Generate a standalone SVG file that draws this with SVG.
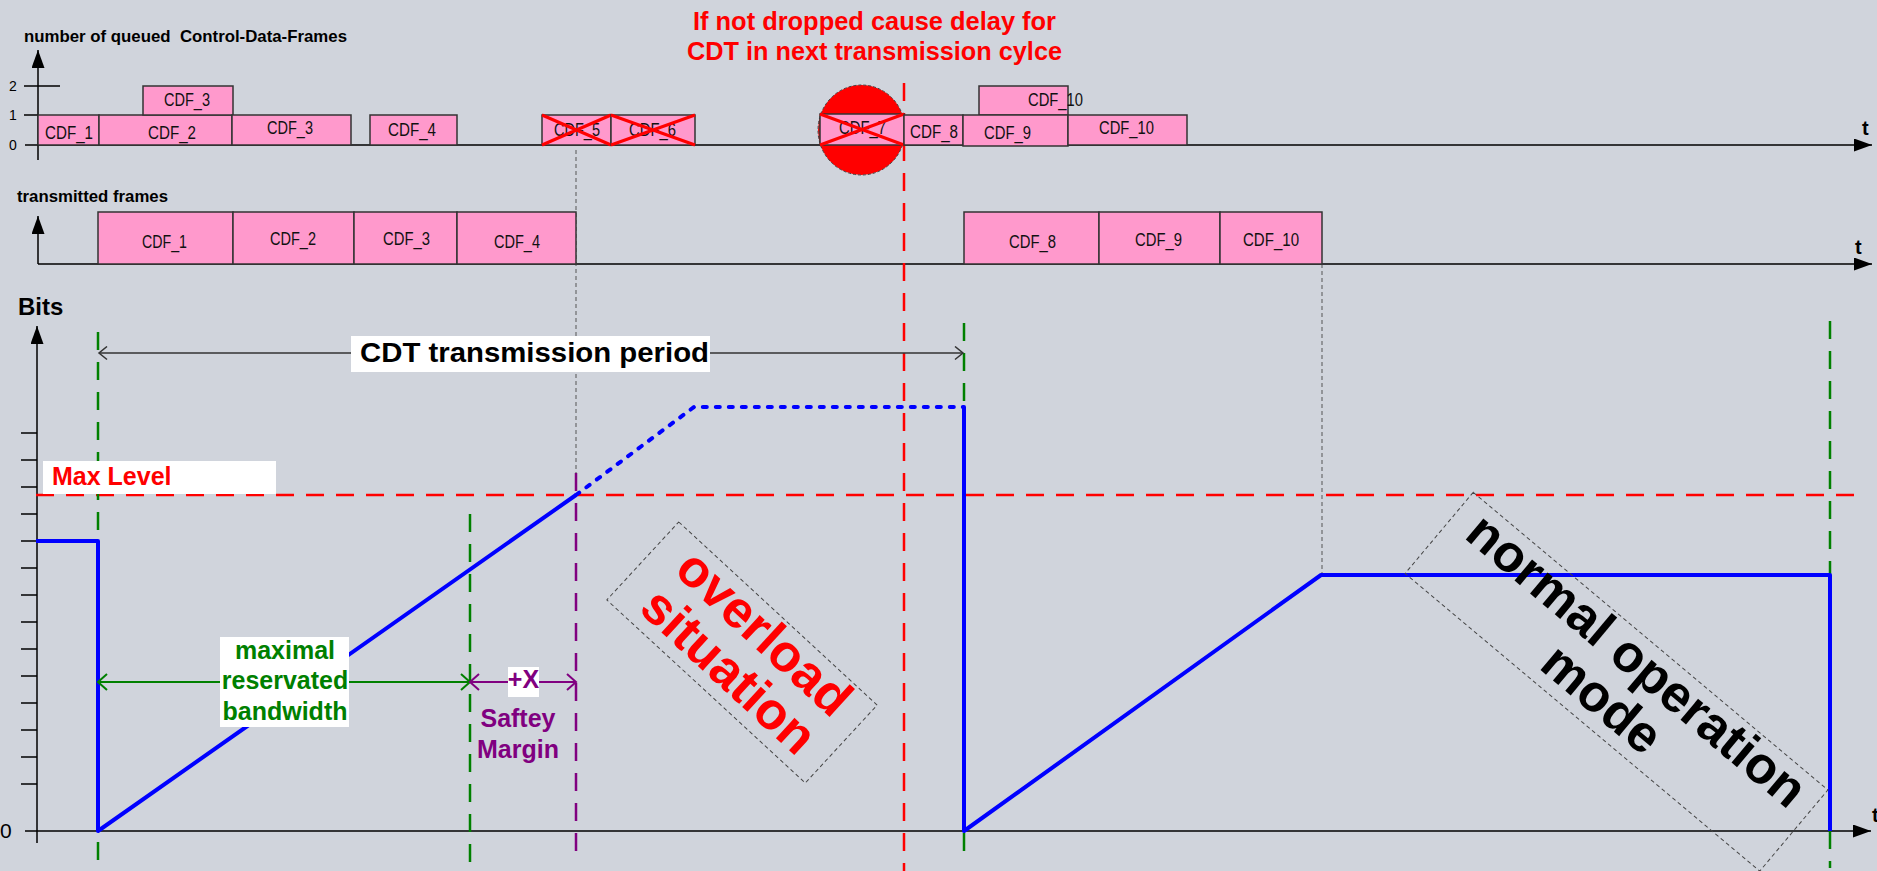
<svg xmlns="http://www.w3.org/2000/svg" width="1877" height="871" viewBox="0 0 1877 871">
<defs>
<style>
.bg{fill:#d0d4dc}
.ax{stroke:#000;stroke-width:1.5;fill:none}
.box{fill:#ff99cc;stroke:#333;stroke-width:1.5}
.cdf{font-family:"Liberation Sans",Arial,sans-serif;font-size:18px;fill:#111}
.tick{font-family:"Liberation Sans",Arial,sans-serif;font-size:14px;fill:#000}
.cross{stroke:#ff0000;stroke-width:3}
.guide{stroke:#555;stroke-width:1;stroke-dasharray:4 3;fill:none}
.dash{stroke-width:2.5;stroke-dasharray:18 12;fill:none}
.red{stroke:#ff0000}
.grn{stroke:#008000}
.pur{stroke:#800080}
.curve{stroke:#0000ff;stroke-width:4;fill:none;stroke-linejoin:round}
.dotted{stroke-dasharray:4 9;stroke-linecap:round}
.b{font-family:"Liberation Sans",Arial,sans-serif;font-weight:bold}
.frame{fill:none;stroke:#444;stroke-width:1;stroke-dasharray:4 3}
.tag{fill:#ffffff}
</style>
<marker id="axArrow" markerUnits="userSpaceOnUse" markerWidth="18" markerHeight="13" viewBox="0 0 18 13" refX="18" refY="6.5" orient="auto"><path d="M0,0 L18,6.5 L0,13 Z" fill="#000"/></marker>
<marker id="openGray" markerUnits="userSpaceOnUse" markerWidth="11" markerHeight="15" viewBox="0 0 11 15" refX="9" refY="7.5" orient="auto-start-reverse"><path d="M1,1 L9,7.5 L1,14" fill="none" stroke="#333" stroke-width="1.5"/></marker>
<marker id="openGreen" markerUnits="userSpaceOnUse" markerWidth="12" markerHeight="18" viewBox="0 0 12 18" refX="10" refY="9" orient="auto-start-reverse"><path d="M1,1 L10,9 L1,17" fill="none" stroke="#008000" stroke-width="2"/></marker>
<marker id="openPurple" markerUnits="userSpaceOnUse" markerWidth="12" markerHeight="18" viewBox="0 0 12 18" refX="10" refY="9" orient="auto-start-reverse"><path d="M1,1 L10,9 L1,17" fill="none" stroke="#800080" stroke-width="2"/></marker>
</defs>

<rect class="bg" x="0" y="0" width="1877" height="871"/>

<!-- queued frames chart: axes -->
<g id="queue-axes">
  <text class="b" x="24" y="42" font-size="17" textLength="323" lengthAdjust="spacingAndGlyphs" xml:space="preserve">number of queued  Control-Data-Frames</text>
  <line class="ax" x1="38" y1="160" x2="38" y2="50" marker-end="url(#axArrow)"/>
  <line class="ax" x1="25" y1="145" x2="1872" y2="145" marker-end="url(#axArrow)"/>
  <line class="ax" x1="24" y1="86" x2="60" y2="86"/>
  <line class="ax" x1="24" y1="115" x2="38" y2="115"/>
  <text class="tick" x="9" y="91">2</text>
  <text class="tick" x="9" y="120">1</text>
  <text class="tick" x="9" y="150">0</text>
  <text class="b" x="1862" y="135" font-size="20">t</text>
</g>

<!-- transmitted frames chart: axes -->
<g id="tx-axes">
  <text class="b" x="17" y="202" font-size="17" textLength="151" lengthAdjust="spacingAndGlyphs">transmitted frames</text>
  <line class="ax" x1="38" y1="264" x2="38" y2="216" marker-end="url(#axArrow)"/>
  <line class="ax" x1="38" y1="264" x2="1872" y2="264" marker-end="url(#axArrow)"/>
  <text class="b" x="1855" y="254" font-size="20">t</text>
</g>

<!-- bit level chart: axes -->
<g id="bits-axes">
  <text class="b" x="18" y="315" font-size="24">Bits</text>
  <line class="ax" x1="37" y1="843" x2="37" y2="326" marker-end="url(#axArrow)"/>
  <line class="ax" x1="25" y1="831" x2="1871" y2="831" marker-end="url(#axArrow)"/>
  <path class="ax" d="M21,433H37M21,460H37M21,487H37M21,514H37M21,541H37M21,568H37M21,595H37M21,622H37M21,649H37M21,676H37M21,703H37M21,730H37M21,757H37M21,784H37"/>
  <text x="0" y="838" font-family="Liberation Sans, Arial, sans-serif" font-size="21">0</text>
  <text class="b" x="1872" y="822" font-size="20">t</text>
</g>

<!-- guide lines -->
<g id="guides">
  <line class="guide" x1="576" y1="150" x2="576" y2="473"/>
  <line class="guide" x1="1322" y1="264" x2="1322" y2="575"/>
  <line class="dash red" x1="36" y1="495" x2="1861" y2="495"/>
  <line class="dash red" x1="904" y1="83" x2="904" y2="871"/>
  <line class="dash grn" x1="98" y1="332" x2="98" y2="860"/>
  <line class="dash grn" x1="470" y1="514" x2="470" y2="862"/>
  <line class="dash grn" x1="964" y1="323" x2="964" y2="862"/>
  <line class="dash grn" x1="1830" y1="321" x2="1830" y2="868"/>
  <line class="dash pur" x1="576" y1="473" x2="576" y2="858"/>
</g>

<!-- dropped frame highlight -->
<g id="drop-marker">
  <ellipse cx="861.5" cy="130" rx="43.5" ry="45" fill="#ff0000" stroke="#444" stroke-width="1" stroke-dasharray="3 2"/>
</g>

<!-- queued frames -->
<g id="q-cdf1"><rect class="box" x="38" y="115" width="61" height="30"/><text class="cdf" x="45" y="139" textLength="48" lengthAdjust="spacingAndGlyphs">CDF_1</text></g>
<g id="q-cdf2"><rect class="box" x="99" y="115" width="133" height="30"/><text class="cdf" x="148" y="139" textLength="48" lengthAdjust="spacingAndGlyphs">CDF_2</text></g>
<g id="q-cdf3-top"><rect class="box" x="143" y="86" width="90" height="29"/><text class="cdf" x="164" y="106" textLength="46" lengthAdjust="spacingAndGlyphs">CDF_3</text></g>
<g id="q-cdf3"><rect class="box" x="232" y="115" width="119" height="30"/><text class="cdf" x="267" y="134" textLength="46" lengthAdjust="spacingAndGlyphs">CDF_3</text></g>
<g id="q-cdf4"><rect class="box" x="370" y="115" width="87" height="30"/><text class="cdf" x="388" y="136" textLength="48" lengthAdjust="spacingAndGlyphs">CDF_4</text></g>
<g id="q-cdf5"><rect class="box" x="542" y="115" width="69" height="30"/><text class="cdf" x="554" y="136" textLength="46" lengthAdjust="spacingAndGlyphs">CDF_5</text><path class="cross" d="M542,115L611,145M542,145L611,115"/></g>
<g id="q-cdf6"><rect class="box" x="611" y="115" width="84" height="30"/><text class="cdf" x="629" y="136" textLength="47" lengthAdjust="spacingAndGlyphs">CDF_6</text><path class="cross" d="M611,115L695,145M611,145L695,115"/></g>
<g id="q-cdf7"><rect class="box" x="820" y="114" width="84" height="31"/><text class="cdf" x="839" y="134" textLength="47" lengthAdjust="spacingAndGlyphs">CDF_7</text><path class="cross" d="M820,114L904,145M820,145L904,114"/></g>
<g id="q-cdf8"><rect class="box" x="904" y="115" width="59" height="30"/><text class="cdf" x="910" y="138" textLength="48" lengthAdjust="spacingAndGlyphs">CDF_8</text></g>
<g id="q-cdf10-top"><rect class="box" x="979" y="86" width="89" height="29"/><text class="cdf" x="1028" y="106" textLength="55" lengthAdjust="spacingAndGlyphs">CDF_10</text></g>
<g id="q-cdf9"><rect class="box" x="963" y="115" width="105" height="31"/><text class="cdf" x="984" y="139" textLength="47" lengthAdjust="spacingAndGlyphs">CDF_9</text></g>
<g id="q-cdf10"><rect class="box" x="1068" y="115" width="119" height="30"/><text class="cdf" x="1099" y="134" textLength="55" lengthAdjust="spacingAndGlyphs">CDF_10</text></g>

<!-- transmitted frames -->
<g id="t-cdf1"><rect class="box" x="98" y="212" width="135" height="52"/><text class="cdf" x="142" y="248" textLength="45" lengthAdjust="spacingAndGlyphs">CDF_1</text></g>
<g id="t-cdf2"><rect class="box" x="233" y="212" width="121" height="52"/><text class="cdf" x="270" y="245" textLength="46" lengthAdjust="spacingAndGlyphs">CDF_2</text></g>
<g id="t-cdf3"><rect class="box" x="354" y="212" width="103" height="52"/><text class="cdf" x="383" y="245" textLength="47" lengthAdjust="spacingAndGlyphs">CDF_3</text></g>
<g id="t-cdf4"><rect class="box" x="457" y="212" width="119" height="52"/><text class="cdf" x="494" y="248" textLength="46" lengthAdjust="spacingAndGlyphs">CDF_4</text></g>
<g id="t-cdf8"><rect class="box" x="964" y="212" width="135" height="52"/><text class="cdf" x="1009" y="248" textLength="47" lengthAdjust="spacingAndGlyphs">CDF_8</text></g>
<g id="t-cdf9"><rect class="box" x="1099" y="212" width="121" height="52"/><text class="cdf" x="1135" y="246" textLength="47" lengthAdjust="spacingAndGlyphs">CDF_9</text></g>
<g id="t-cdf10"><rect class="box" x="1220" y="212" width="102" height="52"/><text class="cdf" x="1243" y="246" textLength="56" lengthAdjust="spacingAndGlyphs">CDF_10</text></g>

<!-- connectors: buffer level curve and dimension arrows -->
<g id="connectors">
  <path class="curve" d="M36,541H98V831L576,495"/>
  <path class="curve dotted" d="M576,495L694,407H964"/>
  <path class="curve" d="M964,407V831L1321,575H1830V831"/>
  <path d="M99,353H963" stroke="#333" stroke-width="1.5" fill="none" marker-start="url(#openGray)" marker-end="url(#openGray)"/>
  <path d="M98,682H470" stroke="#008000" stroke-width="2" fill="none" marker-start="url(#openGreen)" marker-end="url(#openGreen)"/>
  <path d="M470,682H576" stroke="#800080" stroke-width="2" fill="none" marker-start="url(#openPurple)" marker-end="url(#openPurple)"/>
</g>

<!-- labels -->
<g id="note-drop">
  <text class="b" font-size="25" fill="#ff0000" text-anchor="middle"><tspan x="874.5" y="30" textLength="363" lengthAdjust="spacingAndGlyphs">If not dropped cause delay for</tspan><tspan x="874.5" y="60" textLength="375" lengthAdjust="spacingAndGlyphs">CDT in next transmission cylce</tspan></text>
</g>
<g id="label-period">
  <rect class="tag" x="351" y="336" width="359" height="36"/>
  <text class="b" x="360" y="362" font-size="28" textLength="349" lengthAdjust="spacingAndGlyphs">CDT transmission period</text>
</g>
<g id="label-max">
  <rect class="tag" x="43" y="461" width="233" height="33"/>
  <text class="b" x="52" y="485" font-size="25" fill="#ff0000">Max Level</text>
</g>
<g id="label-bandwidth">
  <rect class="tag" x="220" y="637" width="129" height="90"/>
  <text class="b" font-size="25" fill="#008000" text-anchor="middle"><tspan x="285" y="659">maximal</tspan><tspan x="285" y="689">reservated</tspan><tspan x="285" y="720">bandwidth</tspan></text>
</g>
<g id="label-x">
  <rect class="tag" x="508" y="667" width="31" height="30"/>
  <text class="b" x="523.5" y="688" font-size="25" fill="#800080" text-anchor="middle">+X</text>
</g>
<g id="label-margin">
  <text class="b" font-size="25" fill="#800080" text-anchor="middle"><tspan x="518" y="727">Saftey</tspan><tspan x="518" y="758">Margin</tspan></text>
</g>
<g id="label-overload" transform="translate(742,652.5) rotate(42.7)">
  <rect class="frame" x="-135" y="-53" width="270" height="106"/>
  <text class="b" font-size="52" fill="#ff0000" text-anchor="middle"><tspan x="3" y="-12">overload</tspan><tspan x="3" y="40">situation</tspan></text>
</g>
<g id="label-normal" transform="translate(1616.5,681.7) rotate(40)">
  <rect class="frame" x="-231.5" y="-53" width="463" height="106"/>
  <text class="b" font-size="52" fill="#000" text-anchor="middle"><tspan x="2" y="-12">normal operation</tspan><tspan x="0" y="40">mode</tspan></text>
</g>
</svg>
